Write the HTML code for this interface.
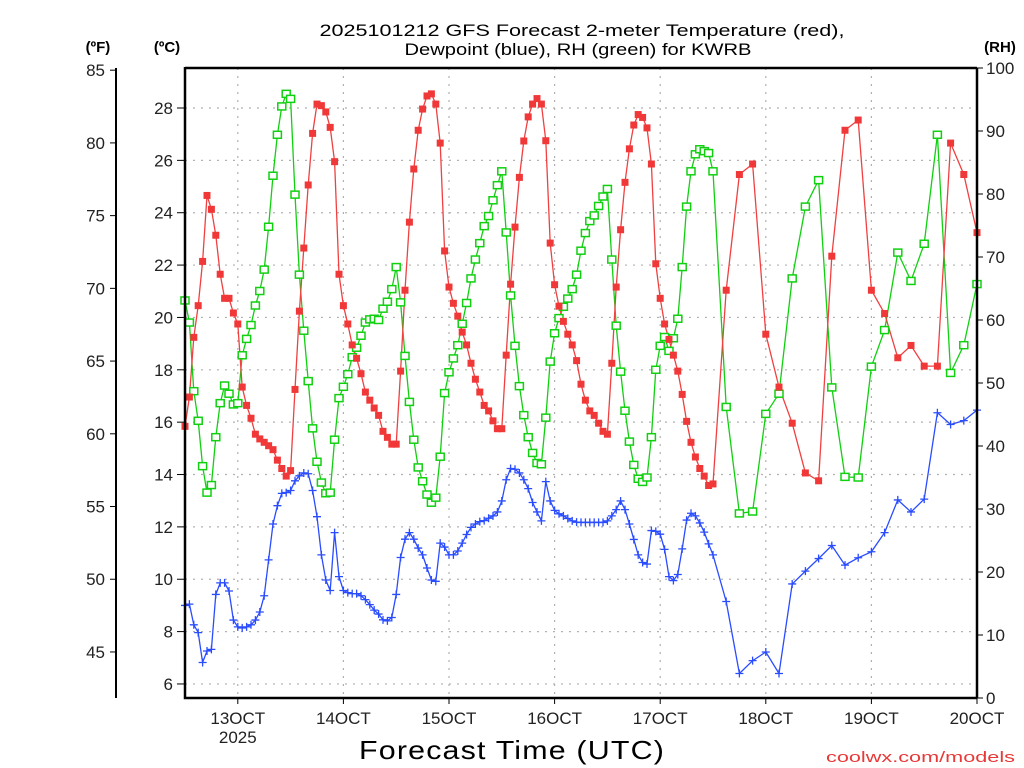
<!DOCTYPE html>
<html><head><meta charset="utf-8"><style>
html,body{margin:0;padding:0;background:#fff;}
svg{display:block;font-family:"Liberation Sans",sans-serif;}
</style></head><body>
<svg id="chart" width="1024" height="768" viewBox="0 0 1024 768" xmlns="http://www.w3.org/2000/svg">
<rect x="0" y="0" width="1024" height="768" fill="#fff"/>
<g id="grid"></g>
<g id="series"></g>
<g id="axes"></g>
<text x="582" y="36" font-size="17" text-anchor="middle" textLength="525" lengthAdjust="spacingAndGlyphs">2025101212 GFS Forecast 2-meter Temperature (red),</text>
<text x="578" y="55" font-size="17" text-anchor="middle" textLength="347" lengthAdjust="spacingAndGlyphs">Dewpoint (blue), RH (green) for KWRB</text>
<text x="98" y="52" font-size="15" font-weight="bold" text-anchor="middle">(ºF)</text>
<text x="167" y="52" font-size="15" font-weight="bold" text-anchor="middle">(ºC)</text>
<text x="1000" y="52" font-size="15" font-weight="bold" text-anchor="middle">(RH)</text>
<text x="512" y="759" font-size="26" text-anchor="middle" textLength="306" lengthAdjust="spacingAndGlyphs" letter-spacing="1">Forecast Time (UTC)</text>
<text x="826" y="762" font-size="15" fill="#e83838" textLength="189" lengthAdjust="spacingAndGlyphs">coolwx.com/models</text>
</svg>
<script>
const hours = [0,1,2,3,4,5,6,7,8,9,10,11,12,13,14,15,16,17,18,19,20,21,22,23,24,25,26,27,28,29,30,31,32,33,34,35,36,37,38,39,40,41,42,43,44,45,46,47,48,49,50,51,52,53,54,55,56,57,58,59,60,61,62,63,64,65,66,67,68,69,70,71,72,73,74,75,76,77,78,79,80,81,82,83,84,85,86,87,88,89,90,91,92,93,94,95,96,97,98,99,100,101,102,103,104,105,106,107,108,109,110,111,112,113,114,115,116,117,118,119,120,123,126,129,132,135,138,141,144,147,150,153,156,159,162,165,168,171,174,177,180];
const tempC = [15.84,16.96,19.24,20.45,22.14,24.66,24.13,23.14,21.65,20.73,20.73,20.17,19.75,
17.34,16.64,16.15,15.54,15.36,15.23,15.10,14.95,14.55,14.23,13.94,14.15,
17.25,20.24,22.65,25.06,27.03,28.15,28.09,27.85,27.26,25.95,21.65,20.45,
19.75,18.95,18.44,17.85,17.15,16.84,16.54,16.26,15.65,15.42,15.16,15.16,
17.95,21.04,23.64,25.67,27.15,27.96,28.46,28.54,28.15,26.66,22.54,21.16,
20.54,20.05,19.44,18.95,18.25,17.64,17.15,16.64,16.43,16.05,15.75,15.75,
18.56,21.27,23.45,25.35,26.74,27.66,28.15,28.36,28.15,26.75,22.84,21.25,
20.43,19.85,19.36,18.95,18.35,17.45,16.84,16.43,16.26,15.96,15.65,15.54,
18.25,21.16,23.35,25.16,26.44,27.35,27.75,27.64,27.24,25.86,22.05,20.73,
19.75,19.16,18.56,17.95,17.06,16.03,15.23,14.67,14.23,13.94,13.58,13.64,
21.04,25.46,25.86,19.36,17.34,15.96,14.06,13.76,22.34,27.15,27.54,21.04,20.15,18.46,18.93,18.14,18.14,26.66,25.46,23.24];
const dewpointC = [9.00,9.05,8.26,7.96,6.82,7.26,7.32,9.42,9.86,9.86,9.55,8.44,8.18,
8.14,8.18,8.26,8.44,8.75,9.37,10.74,12.11,12.81,13.28,13.31,13.39,
13.76,13.95,14.06,14.03,13.39,12.39,10.93,9.97,9.57,11.78,10.10,9.57,
9.49,9.45,9.45,9.37,9.22,9.03,8.82,8.67,8.45,8.41,8.54,9.42,
10.83,11.53,11.78,11.53,11.19,10.93,10.43,9.97,9.92,11.38,11.23,10.93,
10.93,11.08,11.38,11.71,11.98,12.11,12.20,12.24,12.33,12.42,12.57,12.99,
13.80,14.23,14.20,14.06,13.80,13.46,12.93,12.57,12.23,13.73,12.99,12.63,
12.50,12.42,12.32,12.23,12.18,12.17,12.17,12.17,12.17,12.17,12.17,12.23,
12.42,12.66,12.99,12.66,12.11,11.52,10.93,10.64,10.58,11.86,11.83,11.72,
11.14,10.10,9.95,10.18,11.16,12.26,12.52,12.42,12.15,11.80,11.35,10.93,
9.15,6.40,6.89,7.22,6.40,9.82,10.31,10.79,11.29,10.54,10.82,11.05,11.78,13.03,12.57,13.06,16.36,15.91,16.06,16.46];
const rhPct = [63.1,59.6,48.7,44.0,36.8,32.6,33.8,41.4,46.8,49.6,48.3,46.6,46.8,
54.4,57.0,59.2,62.3,64.6,68.0,74.8,82.9,89.4,93.9,95.9,95.1,
79.9,67.2,58.3,50.3,42.8,37.5,34.2,32.5,32.6,41.0,47.6,49.4,
51.4,54.1,55.6,57.5,59.6,60.1,60.2,60.0,61.8,62.9,64.9,68.4,
62.8,54.3,47.0,41.0,36.6,34.4,32.3,31.0,31.8,38.3,48.4,51.7,
53.9,56.0,59.4,62.7,66.6,69.6,72.2,74.9,76.5,79.0,81.4,83.6,
73.9,63.9,55.9,49.5,44.9,41.4,38.9,37.3,37.1,44.5,53.4,57.9,
60.3,62.1,63.4,64.9,67.2,71.0,73.8,75.7,76.6,78.1,79.6,80.8,
69.6,59.1,51.8,45.6,40.7,37.0,34.8,34.3,35.0,41.4,52.1,55.9,
57.3,55.1,57.1,60.2,68.4,78.0,83.6,86.3,87.1,86.8,86.5,83.6,
46.2,29.3,29.6,45.1,48.3,66.6,78.0,82.2,49.3,35.1,35.0,52.6,58.4,70.7,66.2,72.1,89.4,51.6,56.0,65.7];
const celsiusTicks = [6,8,10,12,14,16,18,20,22,24,26,28];
const fahrenheitTicks = [45,50,55,60,65,70,75,80,85];
const rhTicks = [0,10,20,30,40,50,60,70,80,90,100];
const dayTickHours = [12,36,60,84,108,132,156,180];
const dayTickLabels = ["13OCT","14OCT","15OCT","16OCT","17OCT","18OCT","19OCT","20OCT"];

const NS = "http://www.w3.org/2000/svg";
const L = 185, R = 977, T = 68, B = 698;
function xH(h){ return L + h * (R - L) / 180; }
function yC(c){ return 108 + (28 - c) * 26.18; }
function yF(f){ return yC((f - 32) / 1.8); }
function yRH(r){ return B - r * (B - T) / 100; }
function mk(tag, attrs, parent){
  const e = document.createElementNS(NS, tag);
  for (const k in attrs) e.setAttribute(k, attrs[k]);
  parent.appendChild(e);
  return e;
}
const grid = document.getElementById('grid');
const axes = document.getElementById('axes');
const series = document.getElementById('series');

celsiusTicks.forEach(c => {
  const g = mk('line', {x1:L, x2:R, y1:yC(c), y2:yC(c), stroke:'#b0b0b0', 'stroke-width':1.2, 'stroke-dasharray':'2,6'}, grid);
  
  
  const t = mk('line', {x1:177, x2:L, y1:yC(c), y2:yC(c), stroke:'#000', 'stroke-width':1}, axes);
  
  
  const lb = mk('text', {x:173, y:yC(c)+6, 'font-size':17, 'text-anchor':'end', fill:'#222'}, axes);
  lb.textContent = c;
  
  
});
dayTickHours.forEach((h, i) => {
  const x = xH(h);
  if (h < 180) {
    const g = mk('line', {x1:x, x2:x, y1:T, y2:B, stroke:'#b0b0b0', 'stroke-width':1.2, 'stroke-dasharray':'2,6'}, grid);
    
    
  }
  const t = mk('line', {x1:x, x2:x, y1:B, y2:B+6, stroke:'#000', 'stroke-width':1}, axes);
  
  
  const lb = mk('text', {x:x, y:724, 'font-size':17, 'text-anchor':'middle', fill:'#222'}, axes);
  lb.textContent = dayTickLabels[i];
  
  
});
const yr = mk('text', {x:xH(12), y:743, 'font-size':17, 'text-anchor':'middle', fill:'#222'}, axes);
yr.textContent = '2025';



// Fahrenheit axis
const fl = mk('line', {x1:116, x2:116, y1:T, y2:B, stroke:'#000', 'stroke-width':2}, axes);


fahrenheitTicks.forEach(f => {
  const t = mk('line', {x1:110, x2:116, y1:yF(f), y2:yF(f), stroke:'#000', 'stroke-width':1}, axes);
  
  
  const lb = mk('text', {x:105, y:yF(f)+6, 'font-size':17, 'text-anchor':'end', fill:'#222'}, axes);
  lb.textContent = f;
  
  
});
// RH axis
rhTicks.forEach(r => {
  const t = mk('line', {x1:R, x2:R+6, y1:yRH(r), y2:yRH(r), stroke:'#000', 'stroke-width':1}, axes);
  
  
  const lb = mk('text', {x:R+9, y:yRH(r)+6, 'font-size':17, 'text-anchor':'start', fill:'#222'}, axes);
  lb.textContent = r;
  
  
});
// frame
const fr = mk('path', {d:`M${L},${T} H${R} M${L},${T-1} V${B} H${R}`, stroke:'#000', 'stroke-width':2.5, fill:'none'}, axes);


const rl = mk('line', {x1:R, x2:R, y1:T, y2:B, stroke:'#000', 'stroke-width':2.5}, axes);



function drawLine(vals, yfn, color, name){
  const pts = vals.map((v, i) => xH(hours[i]).toFixed(1) + ',' + yfn(v).toFixed(1)).join(' ');
  const p = mk('polyline', {points:pts, fill:'none', stroke:color, 'stroke-width':1.3}, series);
  
  
}
drawLine(rhPct, yRH, '#10d010', 'rh-line');
drawLine(tempC, yC, '#f04040', 'temperature-line');
drawLine(dewpointC, yC, '#2a4cff', 'dewpoint-line');

rhPct.forEach((v, i) => {
  const m = mk('rect', {x:xH(hours[i])-4, y:yRH(v)-3.5, width:8, height:7, fill:'#fff', stroke:'#10d010', 'stroke-width':1.5}, series);
  
  
});
tempC.forEach((v, i) => {
  const m = mk('rect', {x:xH(hours[i])-3.5, y:yC(v)-3.5, width:7, height:7, fill:'#f03838'}, series);
  
  
});
dewpointC.forEach((v, i) => {
  const x = xH(hours[i]), y = yC(v);
  const m = mk('path', {d:`M${x-4},${y} H${x+4} M${x},${y-4} V${y+4}`, stroke:'#2a4cff', 'stroke-width':1.3, fill:'none'}, series);
  
  
});
</script>
</body></html>
